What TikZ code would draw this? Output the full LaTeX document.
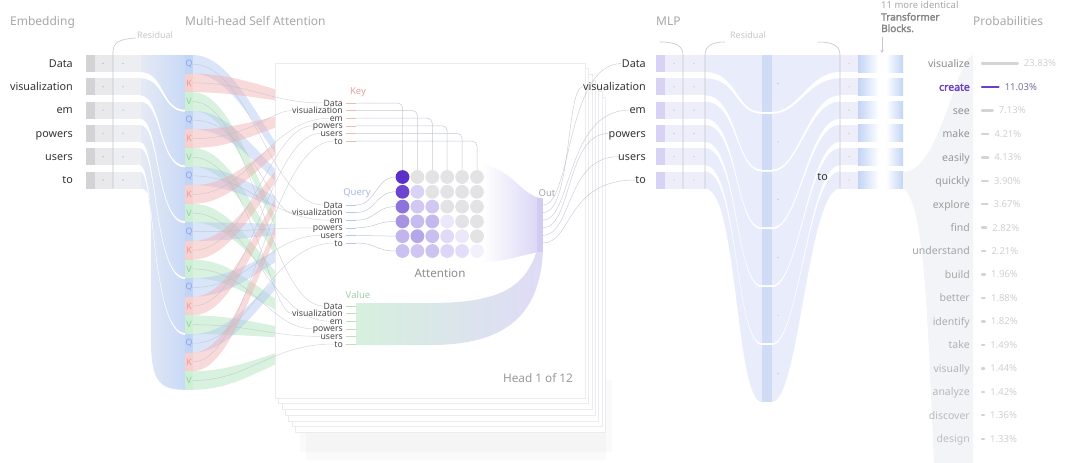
\documentclass[tikz,border=0pt]{standalone}
\usepackage{fontspec}
\setmainfont{Noto Sans}[BoldFont={Noto Sans},BoldFeatures={FakeBold=2.2}]
\usetikzlibrary{arrows.meta}
\newcommand\fsz[1]{\fontsize{#1}{#1}\selectfont}
\definecolor{ttlc}{HTML}{A8A8A8}
\definecolor{resl}{HTML}{C8C8CA}
\definecolor{tokc}{HTML}{333333}
\definecolor{smc}{HTML}{4A4A4A}
\definecolor{embdark}{HTML}{D3D3D5}
\definecolor{embl}{HTML}{E9E9EB}
\definecolor{embl2}{HTML}{ECEEF2}
\definecolor{dotc}{HTML}{C4C4C8}
\definecolor{bandL}{HTML}{E5EAF5}
\definecolor{bandR}{HTML}{C9D9F6}
\definecolor{seg0}{HTML}{C3D5F6}
\definecolor{seg1}{HTML}{F6CFCF}
\definecolor{seg2}{HTML}{CDEFD5}
\definecolor{let0}{HTML}{88A6E6}
\definecolor{let1}{HTML}{EC9797}
\definecolor{let2}{HTML}{8ED39E}
\definecolor{flow0}{HTML}{A9C3F1}
\definecolor{flow1}{HTML}{F2A9A9}
\definecolor{flow2}{HTML}{A6DEB3}
\definecolor{resc}{HTML}{C6C6CA}
\definecolor{cardline}{HTML}{ECECEE}
\definecolor{linec}{HTML}{B9BDC8}
\definecolor{keyc}{HTML}{E6A3A3}
\definecolor{qryc}{HTML}{A9B9E2}
\definecolor{valc}{HTML}{9FD0AB}
\definecolor{dash0}{HTML}{B8C6EA}
\definecolor{dash1}{HTML}{ECBABA}
\definecolor{dash2}{HTML}{B8E0C2}
\definecolor{outc}{HTML}{DAD6F6}
\definecolor{outd}{HTML}{D2CCF4}
\definecolor{valL}{HTML}{D6F0DD}
\definecolor{valR}{HTML}{DFDBF7}
\definecolor{mlpstrip}{HTML}{D8D2F4}
\definecolor{mlpcell}{HTML}{EEEEFA}
\definecolor{mlpband}{HTML}{E9EDFB}
\definecolor{mlpcol}{HTML}{D0DBF6}
\definecolor{blk}{HTML}{C2D4F5}
\definecolor{outfun}{HTML}{F3F4F7}
\definecolor{purp}{HTML}{6B3FC4}
\definecolor{purpt}{HTML}{77719A}
\begin{document}
\begin{tikzpicture}[x=1pt,y=-1pt,
  ttl/.style={font=\fsz{12},text=ttlc,inner sep=0pt,anchor=base west},
  tok/.style={font=\fsz{10.8},text=tokc,inner sep=0pt,anchor=base east,text height=7.7pt,text depth=0pt},
  sml/.style={font=\fsz{8.7},text=smc,inner sep=0pt,anchor=base east,text height=6.2pt,text depth=0pt},
  seglab/.style={font=\fsz{8.8},inner sep=0pt},
  mc/.style={circle,minimum size=13.8pt,inner sep=0pt},
  res/.style={draw=resc,line width=0.6pt},
  ln/.style={draw=linec,line width=0.5pt},
  dot/.style={fill=dotc}
]
\useasboundingbox[fill=white] (0,0) rectangle (1080,463);

% ---------- embedding bands ----------
\foreach \i in {0,...,4}{
  \pgfmathsetmacro\T{55+23.3*\i}
  \pgfmathsetmacro\B{\T+17}
  \pgfmathsetmacro\St{55+55.8*\i+min(\i,1)}
  \pgfmathsetmacro\Sb{55+55.8*(\i+1)-1}
  \pgfmathsetmacro\cta{165-2.5*(\i-1)}
  \pgfmathsetmacro\ctb{165-2.5*\i}
  \shade[left color=bandL,right color=bandR] (140,\T) .. controls (\cta,\T) and (\cta-4,\St) .. (185.5,\St) -- (185.5,\Sb) .. controls (\ctb-4,\Sb) and (\ctb,\B) .. (140,\B) -- cycle;
}
\shade[left color=bandL,right color=bandR] (140,171.5) .. controls (155,171.5) and (151,335) .. (185.5,335) -- (185.5,389.8) .. controls (160,389.8) and (151,382) .. (151,340) -- (151,230) .. controls (151,196) and (149,188.5) .. (140,188.5) -- cycle;

\foreach \w [count=\c from 0] in {Data,visualization,em,powers,users,to}{
  \pgfmathsetmacro\T{55+23.3*\c}
  \fill[embdark] (86,\T) rectangle (95,\T+17);
  \fill[embl] (95,\T) rectangle (113,\T+17);
  \fill[embl2] (113,\T) rectangle (140.5,\T+17);
  \fill[dot] (103,\T+8.5) circle (0.8);
  \fill[dot] (123,\T+8.5) circle (0.8);
  \node[tok] (e\c) at (73,\T+12.35) {\w};
}
% residual bracket (embedding)
\coordinate (r1a) at (113,188.5);
\coordinate (r1b) at (136,38);
\draw[res] (r1a) -- (113,52) .. controls (113,42) and (120,39) .. (r1b);
\node[font=\fsz{9},text=resl,inner sep=0pt,anchor=west] (tRes1) at (137,35) {Residual};

% ---------- Q K V flows ----------
\foreach \k in {0,...,17}{
  \pgfmathsetmacro\ya{55+18.6*\k}
  \pgfmathsetmacro\yb{\ya+18.6}
  \pgfmathtruncatemacro\ty{mod(\k,3)}
  \pgfmathtruncatemacro\g{floor(\k/3)}
  \ifcase\ty\def\base{205}\or\def\base{103}\or\def\base{306}\fi
  \pgfmathsetmacro\tg{\base+7.6*\g}
  \fill[fill=flow\ty,fill opacity=0.42] (193,\ya) .. controls (250,\ya) and (282,\tg-3) .. (345,\tg-3) -- (345,\tg+3) .. controls (282,\tg+3) and (250,\yb) .. (193,\yb) -- cycle;
}
\foreach \k in {0,...,17}{
  \pgfmathsetmacro\ya{55+18.6*\k}
  \pgfmathtruncatemacro\ty{mod(\k,3)}
  \fill[fill=seg\ty] (185,\ya) rectangle (193,\ya+18.6);
  \node[seglab,text=let\ty] (s\k) at (189,\ya+9.3) {\ifcase\ty Q\or K\or V\fi};
  \coordinate (sr\k) at (193,\ya+9.3);
}

% ---------- attention head card ----------
\fill[black,opacity=0.018] (300,380) rectangle (612,452);
\fill[black,opacity=0.018] (306,390) rectangle (606,460);
\foreach \n in {6,5,4,3,2,1}{
  \filldraw[fill=white,draw=cardline,line width=0.5pt] (275+3.4*\n,63+5.7*\n) rectangle (585+3.4*\n,398+5.7*\n);
}
\filldraw[fill=white,draw=cardline,line width=0.6pt] (275,63) rectangle (585,398);

% out funnel and value band
\shade[left color=white,right color=outc] (483,165) .. controls (510,168) and (522,195) .. (540,198) -- (540,252) .. controls (520,255) and (505,262) .. (483,262) -- cycle;
\shade[left color=valL,right color=valR] (356,303) -- (430,303) .. controls (495,303) and (525,290) .. (537,250) -- (543,250) .. controls (540,320) and (500,345) .. (430,345) -- (356,345) -- cycle;
\fill[outd] (537,198) rectangle (543,252);

% labels inside the card
\foreach \w [count=\c from 0] in {Data,visualization,em,powers,users,to}{
  \node[sml] (kl\c) at (343,103+7.6*\c+3.1) {\w};
  \node[sml] (ql\c) at (343,205+7.6*\c+3.1) {\w};
  \node[sml] (vl\c) at (343,306+7.6*\c+3.1) {\w};
}
\node[font=\fsz{9.5},text=keyc,inner sep=0pt] (tKey) at (358,92) {Key};
\node[font=\fsz{9.5},text=qryc,inner sep=0pt] (tQry) at (357,193) {Query};
\node[font=\fsz{9.5},text=valc,inner sep=0pt] (tVal) at (358,295) {Value};
\node[font=\fsz{11.6},text=black!45,inner sep=0pt] (tAtt) at (440,273) {Attention};
\node[font=\fsz{11.8},text=black!40,inner sep=0pt] (tHead) at (538,378) {Head 1 of 12};
\node[font=\fsz{9.5},text=ttlc,inner sep=0pt] (tOut) at (547,193) {Out};

% center lines from Q/K/V column to labels
\foreach \k in {0,...,17}{
  \pgfmathsetmacro\ym{55+18.6*\k+9.3}
  \pgfmathtruncatemacro\ty{mod(\k,3)}
  \pgfmathtruncatemacro\g{floor(\k/3)}
  \ifcase\ty\def\base{205}\def\nm{ql}\or\def\base{103}\def\nm{kl}\or\def\base{306}\def\nm{vl}\fi
  \pgfmathsetmacro\tg{\base+7.6*\g}
  \draw[ln,draw opacity=0.6] (sr\k) .. controls (250,\ym) and (270,\tg) .. (\nm\g.west);
}

% attention matrix
\foreach \i/\j/\h in {
 0/0/5A30C8,0/1/E3E3E6,0/2/E3E3E6,0/3/E3E3E6,0/4/E3E3E6,0/5/E3E3E6,
 1/0/6C44D2,1/1/D9D3F6,1/2/E3E3E6,1/3/E3E3E6,1/4/E3E3E6,1/5/E3E3E6,
 2/0/8D74DD,2/1/D2C9F3,2/2/D0C7F2,2/3/E3E3E6,2/4/E3E3E6,2/5/E3E3E6,
 3/0/A893E3,3/1/C6BCEF,3/2/C4B9EE,3/3/EBE8F9,3/4/E3E3E6,3/5/E3E3E6,
 4/0/C2B5EE,4/1/B6A7EA,4/2/C9BFF0,4/3/E0DAF7,4/4/ECE8FA,4/5/E3E3E6,
 5/0/CBC1F0,5/1/D0C6F1,5/2/CDC3F0,5/3/DDD6F6,5/4/E3DDF7,5/5/F2F0FB}{
  \definecolor{mcol}{HTML}{\h}
  \node[mc,fill=mcol] (m\i\j) at (402.5+14.9*\j,177+14.8*\i) {};
}
% key / query / value dashes and lines
\foreach \c in {0,...,5}{
  \coordinate (kd\c) at (346,103+7.6*\c);
  \coordinate (ke\c) at (356,103+7.6*\c);
  \coordinate (qd\c) at (346,205+7.6*\c);
  \coordinate (qe\c) at (356,205+7.6*\c);
  \coordinate (vd\c) at (346,306+7.6*\c);
  \coordinate (ve\c) at (356,306+7.6*\c);
  \draw[ln,draw opacity=0.8,rounded corners=5pt] (ke\c) -| (m0\c.north);
  \draw[ln,draw opacity=0.8] (qe\c) .. controls (376,205+7.6*\c) and (376,177+14.8*\c) .. (m\c0.west);
  \draw[dash1,line width=0.6pt] (kd\c) -- (ke\c);
  \draw[dash0,line width=0.6pt] (qd\c) -- (qe\c);
  \draw[dash2,line width=0.6pt] (vd\c) -- (ve\c);
}

% ---------- MLP ----------
\foreach \i in {0,...,5}{
  \pgfmathsetmacro\T{55+23.3*\i}
  \pgfmathsetmacro\B{\T+17}
  \pgfmathsetmacro\St{55+57.83*\i+min(\i,1)}
  \pgfmathsetmacro\Sb{55+57.83*(\i+1)-(\i<5?1:0)}
  \fill[mlpband] (705,\T) .. controls (738,\T) and (735,\St) .. (762,\St) -- (772,\St) .. controls (799,\St) and (808,\T) .. (840,\T) -- (840,\B) .. controls (808,\B) and (799,\Sb) .. (772,\Sb) -- (762,\Sb) .. controls (735,\Sb) and (738,\B) .. (705,\B) -- cycle;
  \fill[mlpcol] (762,\St) rectangle (772,\Sb);
  \fill[dot] (778,{(\St+\Sb)/2}) circle (0.7);
}
\foreach \w [count=\c from 0] in {Data,visualization,em,powers,users,to}{
  \pgfmathsetmacro\T{55+23.3*\c}
  \fill[mlpstrip] (656,\T) rectangle (665,\T+17);
  \fill[mlpcell] (665,\T) rectangle (705,\T+17);
  \fill[dot] (674,\T+8.5) circle (0.7);
  \fill[dot] (694,\T+8.5) circle (0.7);
  \fill[mlpcell] (840,\T) rectangle (858,\T+17);
  \fill[dot] (849,\T+8.5) circle (0.7);
  \shade[left color=blk,right color=white] (858,\T) rectangle (879,\T+17);
  \shade[left color=white,right color=blk] (886,\T) rectangle (903,\T+17);
  \node[tok] (ml\c) at (646,\T+12.35) {\w};
}
\node[tok] (rto) at (828,180.85) {to};
% brackets
\coordinate (b1a) at (683,188.5); \coordinate (b1b) at (660,42);
\coordinate (b2a) at (705,188.5); \coordinate (b2b) at (725,42);
\coordinate (b3a) at (840,188.5); \coordinate (b3b) at (818,42);
\draw[res] (b1a) -- (683,55) .. controls (683,46) and (676,42) .. (b1b);
\draw[res] (b2a) -- (705,55) .. controls (705,46) and (712,42) .. (b2b);
\draw[res] (b3a) -- (840,55) .. controls (840,46) and (833,42) .. (b3b);
\node[font=\fsz{9},text=resl,inner sep=0pt] (tRes2) at (748,35) {Residual};

% out lines
\foreach \c in {0,...,5}{
  \coordinate (o\c) at (543,205+7.6*\c);
  \draw[ln,draw opacity=0.7] (o\c) .. controls (572,205+7.6*\c) and (566,63.5+23.3*\c) .. (ml\c.west);
}

% ---------- output ----------
\fill[outfun] (903,172) .. controls (940,172) and (955,60) .. (973,55) -- (973,463) -- (934,463) .. controls (928,330) and (925,200) .. (903,188.5) -- cycle;
\node[font=\fsz{9.5},text=ttlc,inner sep=0pt,anchor=base west] (tMore) at (881,8.5) {11 more identical};
\node[font=\fsz{10}\bfseries,text=black!48,inner sep=0pt,anchor=base west] (tTr) at (881,20.5) {Transformer};
\node[font=\fsz{10}\bfseries,text=black!48,inner sep=0pt,anchor=base west] (tBl) at (881,32) {Blocks.};
\coordinate (arS) at (882,37);
\coordinate (arE) at (882,53);
\draw[draw=resc,line width=0.6pt,-{Stealth[length=3pt,width=3pt]}] (arS) -- (arE);

\foreach \w/\p [count=\c from 0] in {visualize/23.83,create/11.03,see/7.13,make/4.21,easily/4.13,quickly/3.90,explore/3.67,find/2.82,understand/2.21,build/1.96,better/1.88,identify/1.82,take/1.49,visually/1.44,analyze/1.42,discover/1.36,design/1.33}{
  \pgfmathsetmacro\yy{63.5+23.45*\c}
  \pgfmathsetmacro\blen{1.5*\p}
  \pgfmathsetmacro\wc{46-1.3*\c}
  \coordinate (pb\c) at (982,\yy);
  \coordinate (pe\c) at (982+\blen,\yy);
  \ifnum\c=1
    \node[font=\fsz{10.5}\bfseries,text=purp,inner sep=0pt,anchor=base east] (pw\c) at (970,\yy+3.8) {\w};
    \draw[purp,line width=2.4pt,line cap=round] (pb\c) -- (pe\c);
    \node[font=\fsz{9.5},text=purpt,inner sep=0pt,anchor=base west] (pp\c) at (982+\blen+6,\yy+3.4) {\p\%};
  \else
    \node[font=\fsz{10.5},text=black!\wc,inner sep=0pt,anchor=base east] (pw\c) at (970,\yy+3.8) {\w};
    \draw[black!17,line width=2.4pt,line cap=round] (pb\c) -- (pe\c);
    \node[font=\fsz{9.5},text=black!18,inner sep=0pt,anchor=base west] (pp\c) at (982+\blen+6,\yy+3.4) {\p\%};
  \fi
}

% ---------- titles ----------
\node[ttl] (tEmb) at (10,25.3) {Embedding};
\node[ttl] (tMha) at (185,25.3) {Multi-head Self Attention};
\node[ttl] (tMlp) at (656,25.3) {MLP};
\node[ttl] (tProb) at (973,25.3) {Probabilities};
\end{tikzpicture}
\end{document}
